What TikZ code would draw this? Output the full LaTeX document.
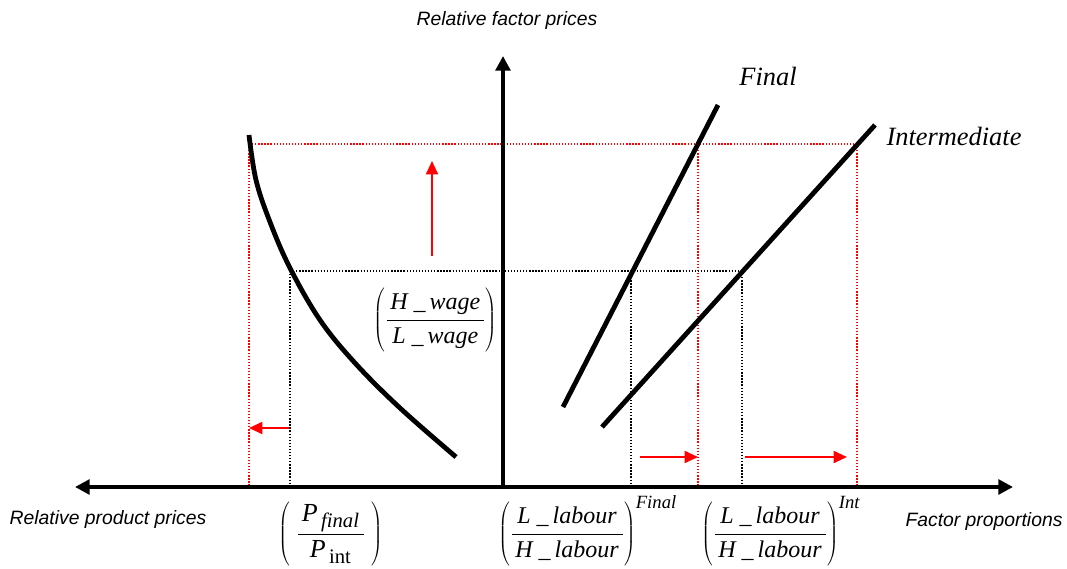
\documentclass[tikz,border=0pt]{standalone}
\usepackage{fontspec}
\setmainfont{Liberation Serif}
\setsansfont{Liberation Sans}
\usetikzlibrary{arrows.meta}
\tikzset{
  axis/.style={line width=3.6pt,-{Triangle[length=11pt,width=11pt]}},
  curve/.style={line width=3.6pt},
  reddot/.style={red,line width=0.9pt,dash pattern=on 1pt off 1.3pt},
  blackdot/.style={black,line width=0.9pt,dash pattern=on 1pt off 1.3pt},
  redarrow/.style={red,line width=1.4pt,-{Triangle[length=10pt,width=9pt]}},
  axlabel/.style={font=\sffamily\itshape\fontsize{14.5}{16}\selectfont},
  curvelabel/.style={font=\itshape\fontsize{19.8}{23}\selectfont},
  fraclabel/.style={font=\fontsize{18}{22}\selectfont,inner sep=0pt,anchor=base west},
}
\newcommand{\itx}[1]{\mbox{\itshape #1}}
\newcommand{\smx}[1]{\mbox{\fontsize{14}{16}\selectfont #1}}
\newcommand{\sbx}[1]{\mbox{\fontsize{15.5}{17}\selectfont #1}}
\newcommand{\bigP}{\mbox{\fontsize{19.5}{22}\selectfont\itshape P}}
\newcommand{\fr}[2]{\displaystyle\frac{\rule[-6.5pt]{0pt}{6.5pt}\,#1\,}{\rule{0pt}{16pt}\,#2\,}}
\newcommand{\bigp}{\vphantom{\rule[-22pt]{0pt}{44pt}}}
\begin{document}
\begin{tikzpicture}[x=0.75pt,y=-0.75pt]
\useasboundingbox (0,0) rectangle (1067,568);
% axis coordinates
\coordinate (O) at (503,487);
\coordinate (xl) at (75,487);
\coordinate (xr) at (1013,487);
\coordinate (yt) at (503,56);
% dotted guide coordinates
\coordinate (r1) at (249,144);
\coordinate (r2) at (857,144);
\coordinate (r1b) at (249,487);
\coordinate (r3) at (698,144);
\coordinate (r3b) at (698,487);
\coordinate (r2b) at (857,487);
\coordinate (b1) at (290,271);
\coordinate (b2) at (742,271);
\coordinate (b1b) at (290,487);
\coordinate (b3) at (631,271);
\coordinate (b3b) at (631,487);
\coordinate (b2b) at (742,487);
% dotted lines
\draw[reddot] (r1) -- (r2);
\draw[reddot] (r1) -- (r1b);
\draw[reddot] (r3) -- (r3b);
\draw[reddot] (r2) -- (r2b);
\draw[blackdot] (b1) -- (b2);
\draw[blackdot] (b1) -- (b1b);
\draw[blackdot] (b3) -- (b3b);
\draw[blackdot] (b2) -- (b2b);
% axes
\draw[axis] (O) -- (xl);
\draw[axis] (O) -- (xr);
\draw[axis] (O) -- (yt);
% left curve
\draw[curve] plot[smooth,tension=0.6] coordinates {(249,135) (256,180) (270,222) (290,268) (320,320) (355,363) (400,408) (456,457)};
% lines
\coordinate (f1) at (563,407);
\coordinate (f2) at (718,105);
\coordinate (i1) at (602,427);
\coordinate (i2) at (875,125);
\draw[curve] (f1) -- (f2);
\draw[curve] (i1) -- (i2);
% red arrows
\coordinate (ua) at (432,256);
\coordinate (ub) at (432,161);
\coordinate (la) at (289,428);
\coordinate (lb) at (249,428);
\coordinate (ra1) at (640,457);
\coordinate (rb1) at (698,457);
\coordinate (ra2) at (745,457);
\coordinate (rb2) at (847,457);
\draw[redarrow] (ua) -- (ub);
\draw[redarrow] (la) -- (lb);
\draw[redarrow] (ra1) -- (rb1);
\draw[redarrow] (ra2) -- (rb2);
% labels
\node[axlabel] (tyl) at (507,20) {Relative factor prices};
\node[axlabel] (txl) at (108,519) {Relative product prices};
\node[axlabel] (txr) at (984,521) {Factor proportions};
\node[curvelabel] (tfin) at (768,76) {Final};
\node[curvelabel] (tint) at (954,136) {Intermediate};
\node[fraclabel] (fw) at (373,326) {$\left(\bigp\fr{\itx{H\ \_\,wage}}{\itx{L\ \_\,wage}}\right)$};
\node[fraclabel] (fp) at (278,540) {$\left(\bigp\;\fr{\bigP_{\sbx{\itshape\,final}}}{\bigP_{\sbx{\,int}}}\;\right)$};
\node[fraclabel] (fl1) at (498,540) {$\left(\bigp\fr{\itx{L\ \_\,labour}}{\itx{H\ \_\,labour}}\right)^{\smx{\itshape Final}}$};
\node[fraclabel] (fl2) at (701,540) {$\left(\bigp\fr{\itx{L\ \_\,labour}}{\itx{H\ \_\,labour}}\right)^{\smx{\itshape Int}}$};
\end{tikzpicture}
\end{document}
